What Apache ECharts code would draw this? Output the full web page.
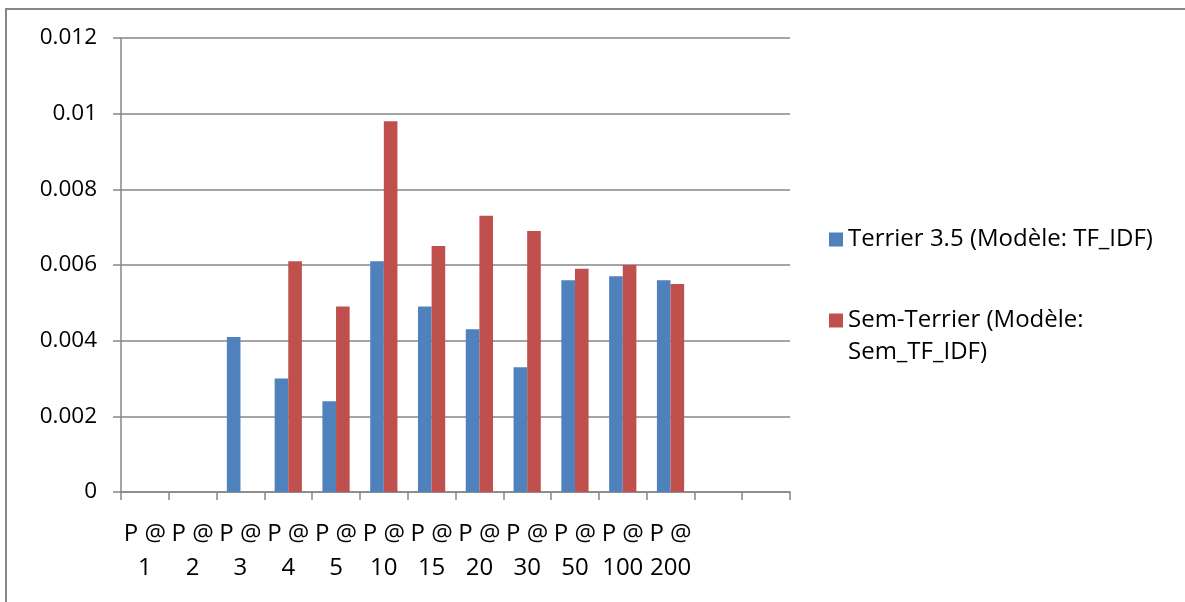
<!DOCTYPE html>
<html>
<head>
<meta charset="utf-8">
<style>
  html, body { margin: 0; padding: 0; background: #ffffff; }
  #chart { width: 1185px; height: 602px; }
</style>
<script src="https://cdn.jsdelivr.net/npm/echarts@6/dist/echarts.min.js"></script>
</head>
<body>
<div id="chart"></div>
<script>
// Precision at rank cut-offs for the two systems
const categories = ['P @ 1', 'P @ 2', 'P @ 3', 'P @ 4', 'P @ 5', 'P @ 10', 'P @ 15', 'P @ 20', 'P @ 30', 'P @ 50', 'P @ 100', 'P @ 200', '', ''];
const seriesNames = ['Terrier 3.5 (Modèle: TF_IDF)', 'Sem-Terrier (Modèle: Sem_TF_IDF)'];
const terrierValues = [0, 0, 0.0041, 0.0030, 0.0024, 0.0061, 0.0049, 0.0043, 0.0033, 0.0056, 0.0057, 0.0056];
const semTerrierValues = [0, 0, 0, 0.0061, 0.0049, 0.0098, 0.0065, 0.0073, 0.0069, 0.0059, 0.0060, 0.0055];
const yTicks = { min: 0, max: 0.012, step: 0.002 };

const FONT = 'Open Sans';
const AXIS_GREY = '#868686';

const chart = echarts.init(document.getElementById('chart'), null, { renderer: 'canvas' });

const legendText = { fontFamily: FONT, fontSize: 24, color: '#000000', lineHeight: 32 };

chart.setOption({
  animation: false,
  backgroundColor: '#ffffff',
  textStyle: { fontFamily: FONT },
  grid: { left: 121, right: 395, top: 38, bottom: 110, containLabel: false },
  graphic: [{
    type: 'rect',
    shape: { x: 6, y: 9, width: 1200, height: 620 },
    style: { fill: 'none', stroke: AXIS_GREY, lineWidth: 2 },
    silent: true
  }],
  legend: [{
    data: [seriesNames[0]],
    orient: 'vertical',
    left: 829,
    top: 223.5,
    padding: 0,
    icon: 'rect',
    itemWidth: 14,
    itemHeight: 14,
    itemGap: 7,
    textStyle: legendText
  }, {
    data: [seriesNames[1]],
    orient: 'vertical',
    left: 829,
    top: 272.5,
    padding: 0,
    icon: 'rect',
    itemWidth: 14,
    itemHeight: 14,
    itemGap: 7,
    // empty first line keeps the marker beside the first line of text
    formatter: name => '\n' + name.replace('Modèle: ', 'Modèle:\n'),
    textStyle: legendText
  }],
  xAxis: {
    type: 'category',
    data: categories,
    boundaryGap: true,
    axisLine: { show: true, lineStyle: { color: AXIS_GREY, width: 1.5 } },
    axisTick: { show: true, alignWithLabel: false, length: 8, lineStyle: { color: AXIS_GREY, width: 1.5 } },
    axisLabel: {
      interval: 0,
      margin: 25,
      fontFamily: FONT,
      fontSize: 24,
      lineHeight: 34,
      color: '#000000',
      formatter: v => v.replace(/ (\S+)$/, '\n$1')
    },
    splitLine: { show: false }
  },
  yAxis: {
    type: 'value',
    min: yTicks.min,
    max: yTicks.max,
    interval: yTicks.step,
    axisLine: { show: true, lineStyle: { color: AXIS_GREY, width: 1.5 } },
    axisTick: { show: true, length: 8, lineStyle: { color: AXIS_GREY, width: 1.5 } },
    axisLabel: { margin: 24, fontFamily: FONT, fontSize: 22.5, color: '#000000' },
    splitLine: { show: true, lineStyle: { color: AXIS_GREY, width: 1.5 } }
  },
  series: [{
    name: seriesNames[0],
    type: 'bar',
    data: terrierValues,
    barWidth: '28.5%',
    barGap: '0%',
    itemStyle: { color: '#4F81BD' }
  }, {
    name: seriesNames[1],
    type: 'bar',
    data: semTerrierValues,
    barWidth: '28.5%',
    barGap: '0%',
    itemStyle: { color: '#C0504D' }
  }]
});
</script>
</body>
</html>
